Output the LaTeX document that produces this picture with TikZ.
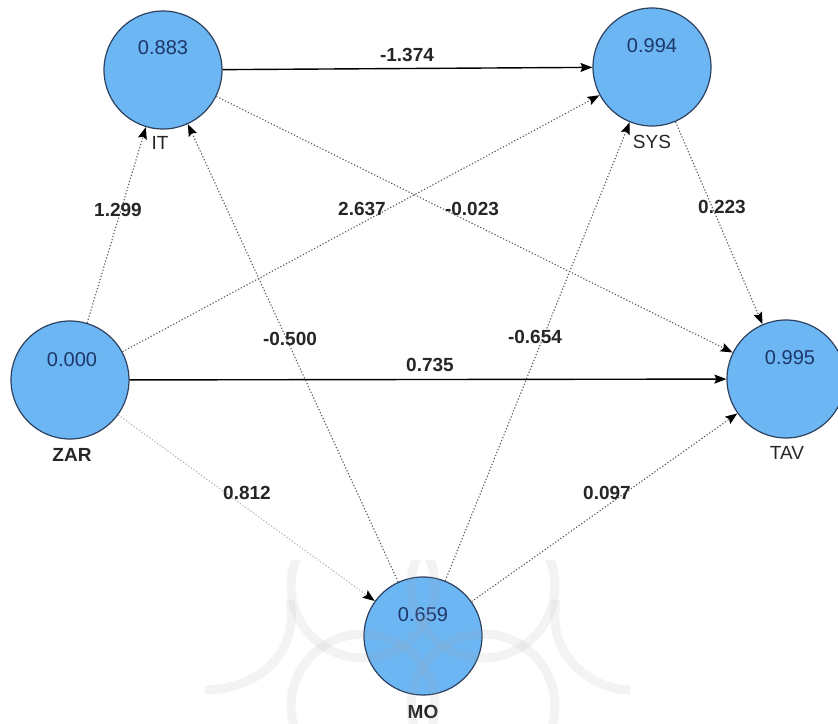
\documentclass[tikz,border=0pt]{standalone}
\usepackage{fontspec}
\setmainfont{Liberation Sans}
\usetikzlibrary{arrows.meta}
\definecolor{nodefill}{RGB}{108,182,244}
\definecolor{nodeborder}{RGB}{45,65,95}
\definecolor{valblue}{RGB}{30,55,105}
\begin{document}
\begin{tikzpicture}[x=1pt,y=-1pt,
  var/.style={circle, draw=nodeborder, line width=1.2pt, fill=nodefill, minimum size=118pt, inner sep=0pt},
  val/.style={font=\fontsize{20}{20}\selectfont, text=valblue, inner sep=0pt},
  vname/.style={font=\fontsize{19}{19}\selectfont, text=black!85, inner sep=0pt},
  elab/.style={font=\bfseries\fontsize{19}{19}\selectfont, text=black!85, inner sep=0pt},
  tipstyle/.style={-{Stealth[length=12pt,width=9pt,inset=2pt,black]}},
  solidarrow/.style={tipstyle, line width=1.4pt, black},
  dotarrow/.style={tipstyle, line width=1.1pt, black!65, dash pattern=on 1.2pt off 2pt},
  faintarrow/.style={tipstyle, line width=1.1pt, black!30, dash pattern=on 1.2pt off 2pt},
  wmark/.style={line width=9pt, gray!70, opacity=0.13}
]
\useasboundingbox (0,0) rectangle (838,723);
\fill[white] (0,0) rectangle (838,723);

% variables
\node[var] (IT)  at (163,70)  {};
\node[var] (SYS) at (652,67)  {};
\node[var] (ZAR) at (70,380)  {};
\node[var] (TAV) at (786,379) {};
\node[var] (MO)  at (423,636) {};

% connectors
\draw[solidarrow] (IT) -- (SYS);
\draw[solidarrow] (ZAR) -- (TAV);
\draw[dotarrow] (IT) -- (TAV);
\draw[dotarrow] (ZAR) -- (IT);
\draw[dotarrow] (ZAR) -- (SYS);
\draw[faintarrow] (ZAR) -- (MO);
\draw[dotarrow] (MO) -- (IT);
\draw[dotarrow] (MO) -- (SYS);
\draw[dotarrow] (MO) -- (TAV);
\draw[dotarrow] (SYS) -- (TAV);

% values inside circles
\node[val] (ITv)  at (163,48)  {0.883};
\node[val] (SYSv) at (652,46)  {0.994};
\node[val] (ZARv) at (72,360)  {0.000};
\node[val] (TAVv) at (790,358) {0.995};
\node[val] (MOv)  at (423,615) {0.659};

% names
\node[vname] (ITn)  at (160,143) {IT};
\node[vname] (SYSn) at (652,142) {SYS};
\node[vname] (ZARn) at (72,455)  {\bfseries ZAR};
\node[vname] (TAVn) at (787,453) {TAV};
\node[vname] (MOn)  at (423,712) {\bfseries MO};

% path coefficients
\node[elab] (l1) at (407,55)  {-1.374};
\node[elab] (l2) at (118,210) {1.299};
\node[elab] (l3) at (362,209) {2.637};
\node[elab] (l4) at (472,209) {-0.023};
\node[elab] (l5) at (722,207) {0.223};
\node[elab] (l6) at (290,339) {-0.500};
\node[elab] (l7) at (535,337) {-0.654};
\node[elab] (l8) at (430,365) {0.735};
\node[elab] (l9) at (247,493) {0.812};
\node[elab] (l10) at (607,493) {0.097};

% faint watermark ornament
\begin{scope}
  \clip (200,560) rectangle (640,723);
  \draw[wmark] (363,586) circle (72);
  \draw[wmark] (483,586) circle (72);
  \draw[wmark] (363,706) circle (72);
  \draw[wmark] (483,706) circle (72);
  \draw[wmark] (290,600) .. controls (300,660) and (250,690) .. (205,690);
  \draw[wmark] (556,600) .. controls (546,660) and (596,690) .. (630,690);
\end{scope}
\end{tikzpicture}
\end{document}
